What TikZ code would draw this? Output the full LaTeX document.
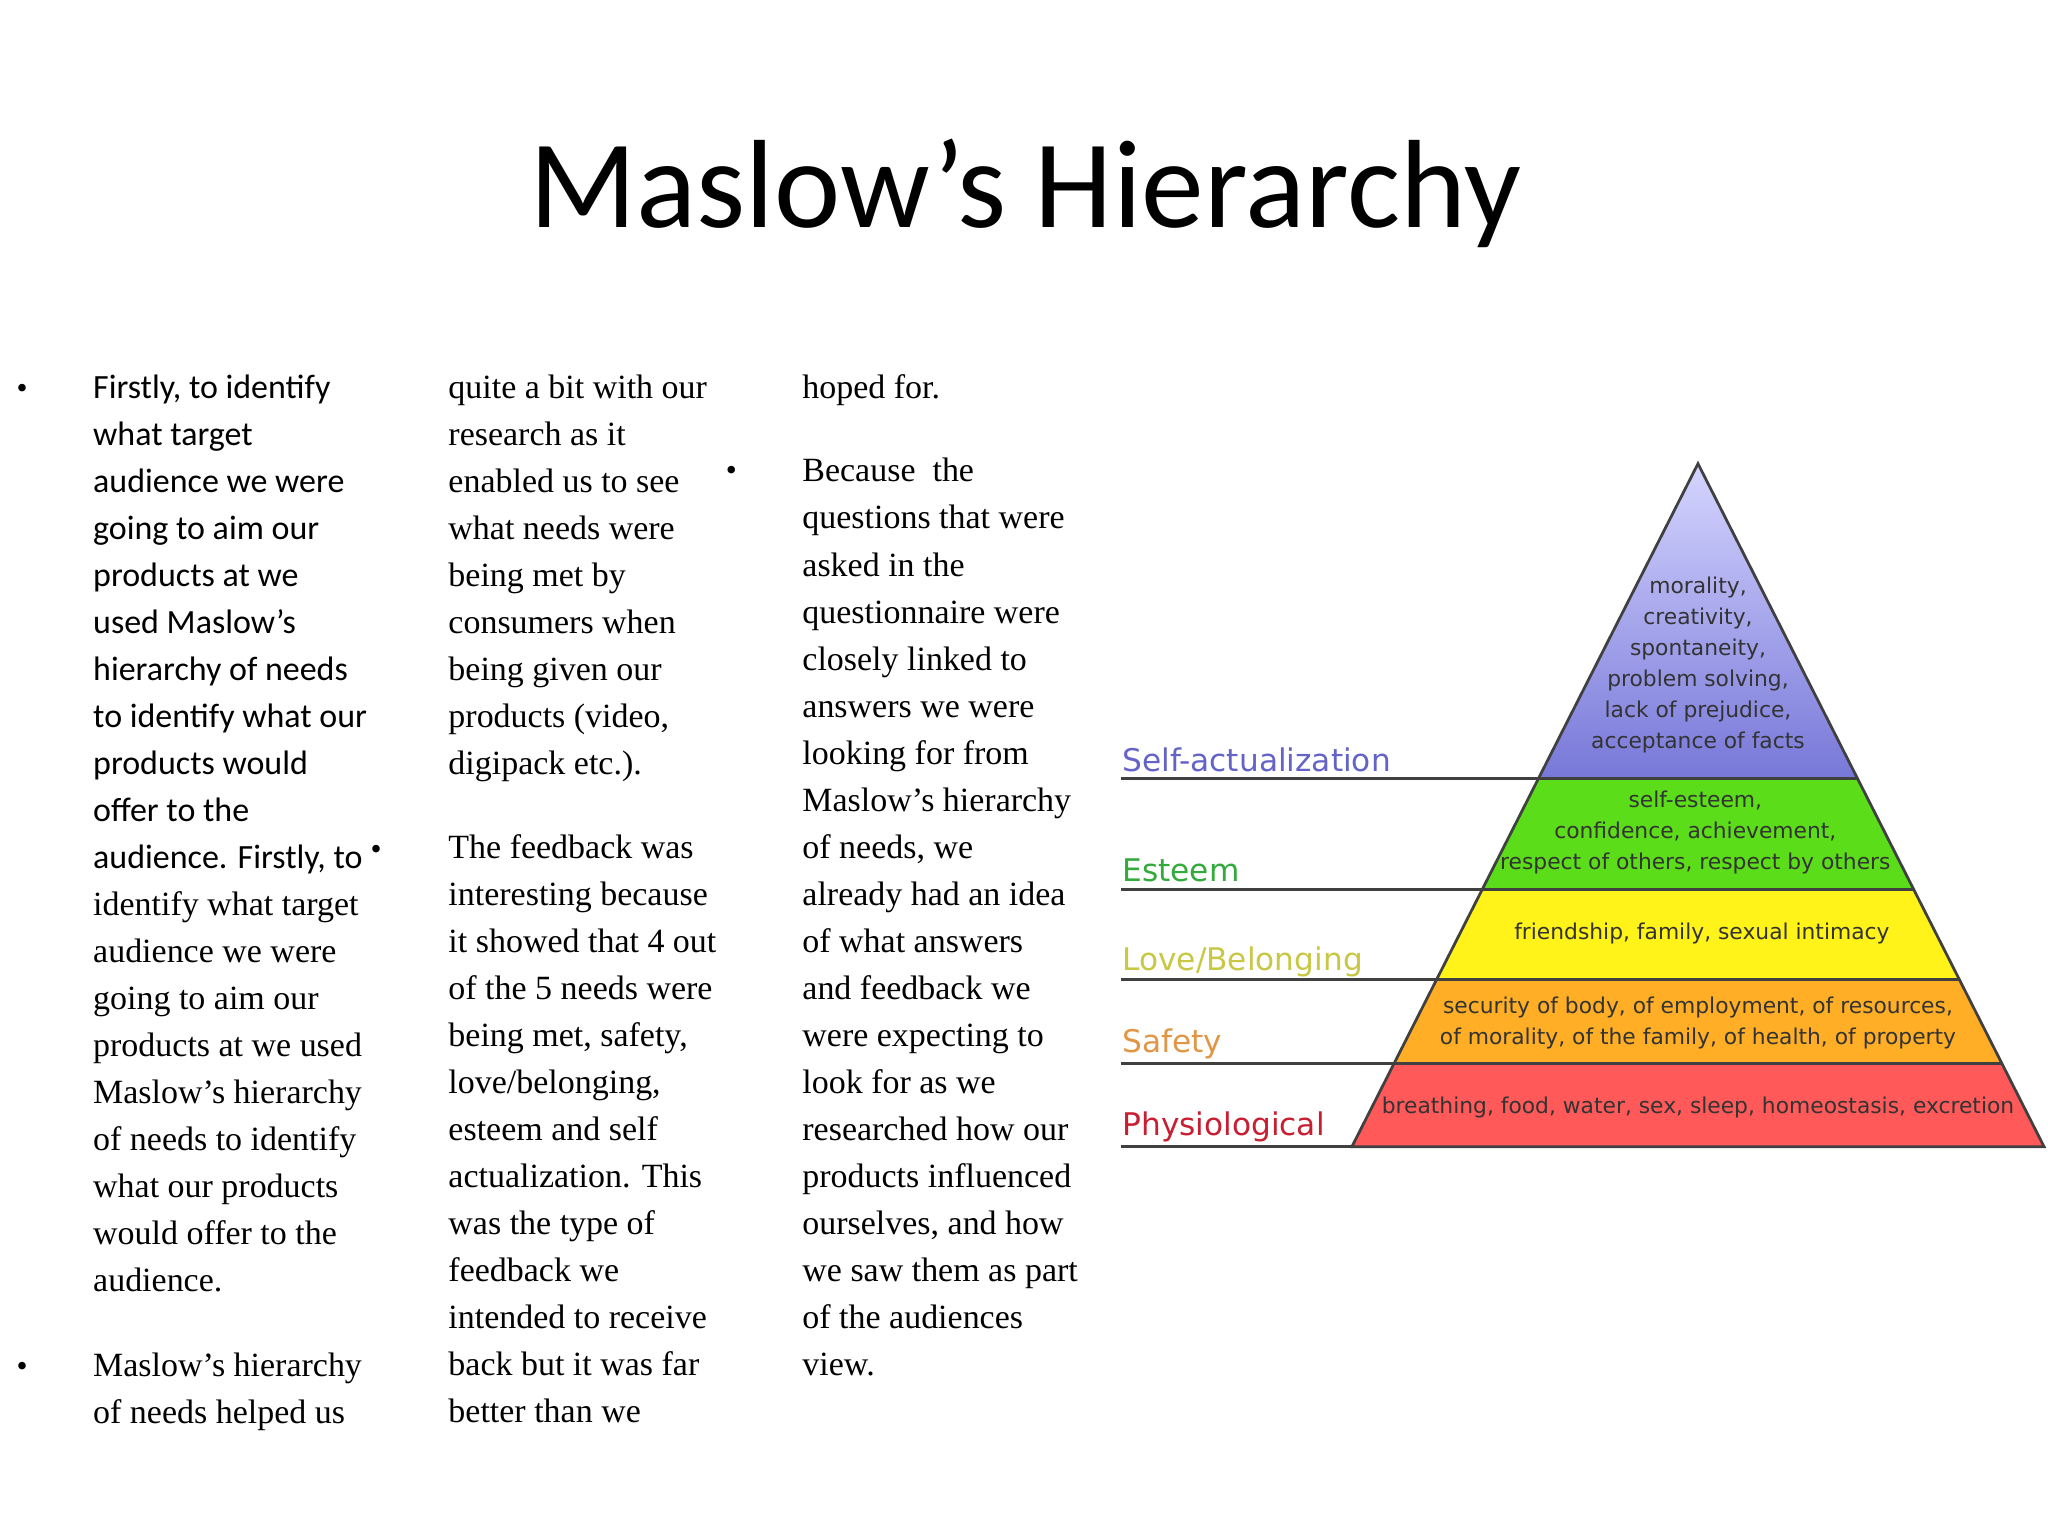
\documentclass[tikz,border=0pt]{standalone}
\usepackage{fontspec}
\setmainfont{Liberation Serif}
\newfontfamily\calib{Carlito}
\newfontfamily\dvs{DejaVu Sans}
\begin{document}
\begin{tikzpicture}[x=0.02cm,y=-0.02cm,
  body/.style={anchor=base west,inner sep=0pt,font=\fontsize{14.8}{16}\selectfont},
  bul/.style={anchor=base,inner sep=0pt,font=\fontsize{13.7}{16}\selectfont},
  lvl/.style={anchor=base west,inner sep=0pt,font=\dvs\fontsize{13.6}{16}\selectfont},
  inl/.style={align=center,inner sep=0pt,text=black!80,font=\dvs\fontsize{9.5}{13.5}\selectfont},
  sep/.style={draw=black!75,line width=1.2pt}]
\fill[white] (0,0) rectangle (1568,1176);
\useasboundingbox (0,0) rectangle (1568,1176);
\node[inner sep=0pt,font=\calib\fontsize{54.7}{62}\selectfont] (title) at (785,148) {Maslow’s Hierarchy};
% column 1
\node[bul] (b1) at (17,305) {•};
\foreach \t [count=\i from 0] in {Firstly{,} to identify,what target,audience we were,going to aim our,products at we,used Maslow’s,hierarchy of needs,to identify what our,products would,offer to the,audience. Firstly{,} to}
  \node[body,font=\calib\fontsize{14.8}{16}\selectfont] (c1a\i) at (71,305+36*\i) {\t};
\foreach \t [count=\i from 0] in {identify what target,audience we were,going to aim our,products at we used,Maslow’s hierarchy,of needs to identify,what our products,would offer to the,audience.}
  \node[body] (c1b\i) at (71,701+36*\i) {\t};
\node[bul] (b2) at (17,1054) {•};
\node[body] (c1c0) at (71,1054) {Maslow's hierarchy};
\node[body] (c1c1) at (71,1090) {of needs helped us};
% column 2
\node[bul] (b3) at (288,658) {•};
\foreach \t [count=\i from 0] in {quite a bit with our,research as it,enabled us to see,what needs were,being met by,consumers when,being given our,products (video{,},digipack etc.).}
  \node[body] (c2a\i) at (343,305+36*\i) {\t};
\foreach \t [count=\i from 0] in {The feedback was,interesting because,it showed that 4 out,of the 5 needs were,being met{,} safety{,},love/belonging{,},esteem and self,actualization. This,was the type of,feedback we,intended to receive,back but it was far,better than we}
  \node[body] (c2b\i) at (343,657+36*\i) {\t};
% column 3
\node[body] (c3a) at (614,305) {hoped for.};
\node[bul] (b4) at (560,368) {•};
\foreach \t [count=\i from 0] in {Because~ the,questions that were,asked in the,questionnaire were,closely linked to,answers we were,looking for from,Maslow's hierarchy,of needs{,} we,already had an idea,of what answers,and feedback we,were expecting to,look for as we,researched how our,products influenced,ourselves{,} and how,we saw them as part,of the audiences,view.}
  \node[body] (c3b\i) at (614,369+36*\i) {\t};
% pyramid
\shade[top color=white!70!blue!55,bottom color=blue!45!white!85!black] (1300,355) -- (1178,596) -- (1422,596) -- cycle;
\fill[green!55!lime!85!black!90] (1178,596) -- (1135,681) -- (1465,681) -- (1422,596) -- cycle;
\fill[yellow!90!white] (1135,681) -- (1100,750) -- (1500,750) -- (1465,681) -- cycle;
\fill[orange!75!yellow!85!white] (1100,750) -- (1067,814) -- (1533,814) -- (1500,750) -- cycle;
\fill[red!65!white] (1067,814) -- (1035,878) -- (1565,878) -- (1533,814) -- cycle;
\draw[sep] (1300,355) -- (1035,878) -- (1565,878) -- cycle;
\coordinate (p1) at (1178,596); \coordinate (q1) at (1422,596);
\coordinate (p2) at (1135,681); \coordinate (q2) at (1465,681);
\coordinate (p3) at (1100,750); \coordinate (q3) at (1500,750);
\coordinate (p4) at (1067,814); \coordinate (q4) at (1533,814);
\coordinate (p5) at (1035,878);
\coordinate (l1) at (858,596); \coordinate (l2) at (858,681);
\coordinate (l3) at (858,750); \coordinate (l4) at (858,814); \coordinate (l5) at (858,878);
\draw[sep] (l1) -- (q1); \draw[sep] (l2) -- (q2); \draw[sep] (l3) -- (q3);
\draw[sep] (l4) -- (q4); \draw[sep] (l5) -- (p5);
\node[lvl,text={rgb,255:red,100;green,100;blue,200}] (n1) at (859,591) {Self-actualization};
\node[lvl,text={rgb,255:red,50;green,170;blue,60}] (n2) at (859,675) {Esteem};
\node[lvl,text={rgb,255:red,200;green,200;blue,70}] (n3) at (859,743) {Love/Belonging};
\node[lvl,text={rgb,255:red,225;green,150;blue,70}] (n4) at (859,806) {Safety};
\node[lvl,text={rgb,255:red,200;green,30;blue,50}] (n5) at (859,869) {Physiological};
\node[inl] (t1) at (1300,509) {morality,\\creativity,\\spontaneity,\\problem solving,\\lack of prejudice,\\acceptance of facts};
\node[inl] (t2) at (1298,637) {self-esteem,\\confidence, achievement,\\respect of others, respect by others};
\node[inl] (t3) at (1303,715) {friendship, family, sexual intimacy};
\node[inl] (t4) at (1300,783) {security of body, of employment, of resources,\\of morality, of the family, of health, of property};
\node[inl] (t5) at (1300,848) {breathing, food, water, sex, sleep, homeostasis, excretion};
\end{tikzpicture}
\end{document}
